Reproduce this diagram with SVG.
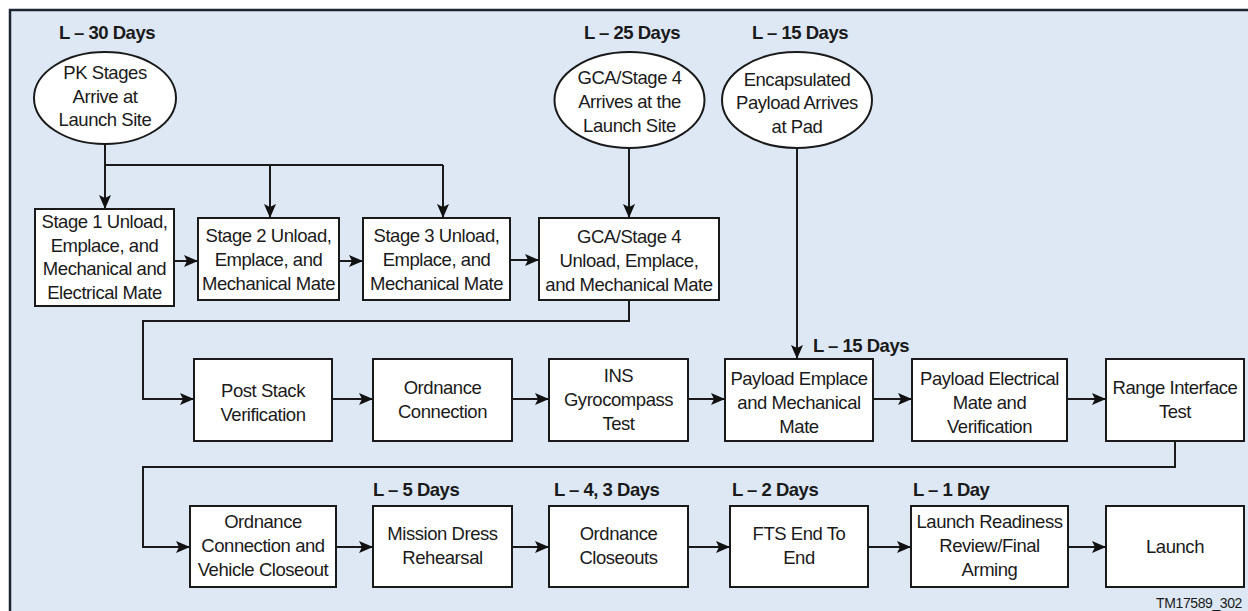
<svg xmlns="http://www.w3.org/2000/svg" width="1248" height="611" viewBox="0 0 1248 611">
<defs>
<marker id="arr" viewBox="0 0 14 12" refX="14" refY="6" markerWidth="14" markerHeight="12" markerUnits="userSpaceOnUse" orient="auto">
<path d="M0,0 L14,6 L0,12 L3,6 z" fill="#111"/>
</marker>
<style>
.bx{fill:#fff;stroke:#1a1a1a;stroke-width:2}
.t{font-family:"Liberation Sans",Arial,sans-serif;font-size:18.5px;letter-spacing:-0.45px;fill:#1a1a1a;text-anchor:middle}
.lb{font-family:"Liberation Sans",Arial,sans-serif;font-size:18.5px;letter-spacing:-0.5px;font-weight:bold;fill:#1a1a1a}
.c{fill:none;stroke:#1a1a1a;stroke-width:2}
</style>
</defs>
<rect width="1248" height="611" fill="#fff"/>
<rect x="10" y="10" width="1240" height="605" fill="#dde8f4"/>
<path d="M10,611 V10 H1248" fill="none" stroke="#1c2530" stroke-width="2.5"/>

<g id="labels">
<text class="lb" x="107" y="39" text-anchor="middle">L – 30 Days</text>
<text class="lb" x="632" y="39" text-anchor="middle">L – 25 Days</text>
<text class="lb" x="800" y="39" text-anchor="middle">L – 15 Days</text>
<text class="lb" x="813" y="352">L – 15 Days</text>
<text class="lb" x="373" y="496">L – 5 Days</text>
<text class="lb" x="554" y="496">L – 4, 3 Days</text>
<text class="lb" x="732" y="496">L – 2 Days</text>
<text class="lb" x="913" y="496">L – 1 Day</text>
<text x="1242" y="608" text-anchor="end" font-family="Liberation Sans, Arial, sans-serif" font-size="14" letter-spacing="-0.4" fill="#1a1a1a">TM17589_302</text>
</g>

<g id="connectors">
<path class="c" d="M105,144 V209" marker-end="url(#arr)"/>
<path class="c" d="M105,165 H443"/>
<path class="c" d="M270,165 V218" marker-end="url(#arr)"/>
<path class="c" d="M443,165 V218" marker-end="url(#arr)"/>
<path class="c" d="M174,261 H198" marker-end="url(#arr)"/>
<path class="c" d="M339,261 H363" marker-end="url(#arr)"/>
<path class="c" d="M510,260 H539" marker-end="url(#arr)"/>
<path class="c" d="M629,148 V218" marker-end="url(#arr)"/>
<path class="c" d="M629,300 V321 H143 V399 H194" marker-end="url(#arr)"/>
<path class="c" d="M332,399 H373" marker-end="url(#arr)"/>
<path class="c" d="M512,399 H549" marker-end="url(#arr)"/>
<path class="c" d="M688,399 H725" marker-end="url(#arr)"/>
<path class="c" d="M873,399 H912" marker-end="url(#arr)"/>
<path class="c" d="M1067,399 H1106" marker-end="url(#arr)"/>
<path class="c" d="M797,148 V359" marker-end="url(#arr)"/>
<path class="c" d="M1175,441 V467 H143 V547 H190" marker-end="url(#arr)"/>
<path class="c" d="M336,547 H373" marker-end="url(#arr)"/>
<path class="c" d="M512,547 H549" marker-end="url(#arr)"/>
<path class="c" d="M688,547 H730" marker-end="url(#arr)"/>
<path class="c" d="M868,547 H911" marker-end="url(#arr)"/>
<path class="c" d="M1068,547 H1106" marker-end="url(#arr)"/>
</g>

<g id="pk">
<ellipse class="bx" cx="105" cy="98" rx="71" ry="46"/>
<text class="t" x="105" y="79">PK Stages</text>
<text class="t" x="105" y="103">Arrive at</text>
<text class="t" x="105" y="126">Launch Site</text>
</g>
<g id="gca-arrive">
<ellipse class="bx" cx="629.5" cy="100" rx="75" ry="48"/>
<text class="t" x="629.5" y="84">GCA/Stage 4</text>
<text class="t" x="629.5" y="108">Arrives at the</text>
<text class="t" x="629.5" y="132">Launch Site</text>
</g>
<g id="payload-arrive">
<ellipse class="bx" cx="797" cy="100" rx="75" ry="48"/>
<text class="t" x="797" y="86">Encapsulated</text>
<text class="t" x="797" y="109">Payload Arrives</text>
<text class="t" x="797" y="133">at Pad</text>
</g>

<g id="stage1">
<rect class="bx" x="35" y="209" width="139" height="97"/>
<text class="t" x="104.5" y="228">Stage 1 Unload,</text>
<text class="t" x="104.5" y="252">Emplace, and</text>
<text class="t" x="104.5" y="275">Mechanical and</text>
<text class="t" x="104.5" y="299">Electrical Mate</text>
</g>
<g id="stage2">
<rect class="bx" x="198" y="218" width="141" height="82"/>
<text class="t" x="268.5" y="242">Stage 2 Unload,</text>
<text class="t" x="268.5" y="266">Emplace, and</text>
<text class="t" x="268.5" y="290">Mechanical Mate</text>
</g>
<g id="stage3">
<rect class="bx" x="363" y="218" width="147" height="82"/>
<text class="t" x="436.5" y="242">Stage 3 Unload,</text>
<text class="t" x="436.5" y="266">Emplace, and</text>
<text class="t" x="436.5" y="290">Mechanical Mate</text>
</g>
<g id="gca">
<rect class="bx" x="539" y="218" width="180" height="82"/>
<text class="t" x="629" y="243">GCA/Stage 4</text>
<text class="t" x="629" y="267">Unload, Emplace,</text>
<text class="t" x="629" y="291">and Mechanical Mate</text>
</g>

<g id="post-stack">
<rect class="bx" x="194" y="359" width="138" height="82"/>
<text class="t" x="263" y="397">Post Stack</text>
<text class="t" x="263" y="421">Verification</text>
</g>
<g id="ord-conn">
<rect class="bx" x="373" y="359" width="139" height="82"/>
<text class="t" x="442.5" y="394">Ordnance</text>
<text class="t" x="442.5" y="418">Connection</text>
</g>
<g id="ins">
<rect class="bx" x="549" y="359" width="139" height="82"/>
<text class="t" x="618.5" y="382">INS</text>
<text class="t" x="618.5" y="406">Gyrocompass</text>
<text class="t" x="618.5" y="430">Test</text>
</g>
<g id="payload-emplace">
<rect class="bx" x="725" y="359" width="148" height="82"/>
<text class="t" x="799" y="385">Payload Emplace</text>
<text class="t" x="799" y="409">and Mechanical</text>
<text class="t" x="799" y="433">Mate</text>
</g>
<g id="payload-elec">
<rect class="bx" x="912" y="359" width="155" height="82"/>
<text class="t" x="989.5" y="385">Payload Electrical</text>
<text class="t" x="989.5" y="409">Mate and</text>
<text class="t" x="989.5" y="433">Verification</text>
</g>
<g id="range">
<rect class="bx" x="1106" y="359" width="138" height="82"/>
<text class="t" x="1175" y="394">Range Interface</text>
<text class="t" x="1175" y="418">Test</text>
</g>

<g id="ord-vehicle">
<rect class="bx" x="190" y="506" width="146" height="81"/>
<text class="t" x="263" y="528">Ordnance</text>
<text class="t" x="263" y="552">Connection and</text>
<text class="t" x="263" y="576">Vehicle Closeout</text>
</g>
<g id="mission">
<rect class="bx" x="373" y="506" width="139" height="81"/>
<text class="t" x="442.5" y="540">Mission Dress</text>
<text class="t" x="442.5" y="564">Rehearsal</text>
</g>
<g id="ord-close">
<rect class="bx" x="549" y="506" width="139" height="81"/>
<text class="t" x="618.5" y="540">Ordnance</text>
<text class="t" x="618.5" y="564">Closeouts</text>
</g>
<g id="fts">
<rect class="bx" x="730" y="506" width="138" height="81"/>
<text class="t" x="799" y="540">FTS End To</text>
<text class="t" x="799" y="564">End</text>
</g>
<g id="lrr">
<rect class="bx" x="911" y="506" width="157" height="81"/>
<text class="t" x="989.5" y="528">Launch Readiness</text>
<text class="t" x="989.5" y="552">Review/Final</text>
<text class="t" x="989.5" y="576">Arming</text>
</g>
<g id="launch">
<rect class="bx" x="1106" y="506" width="138" height="81"/>
<text class="t" x="1175" y="553">Launch</text>
</g>
</svg>
